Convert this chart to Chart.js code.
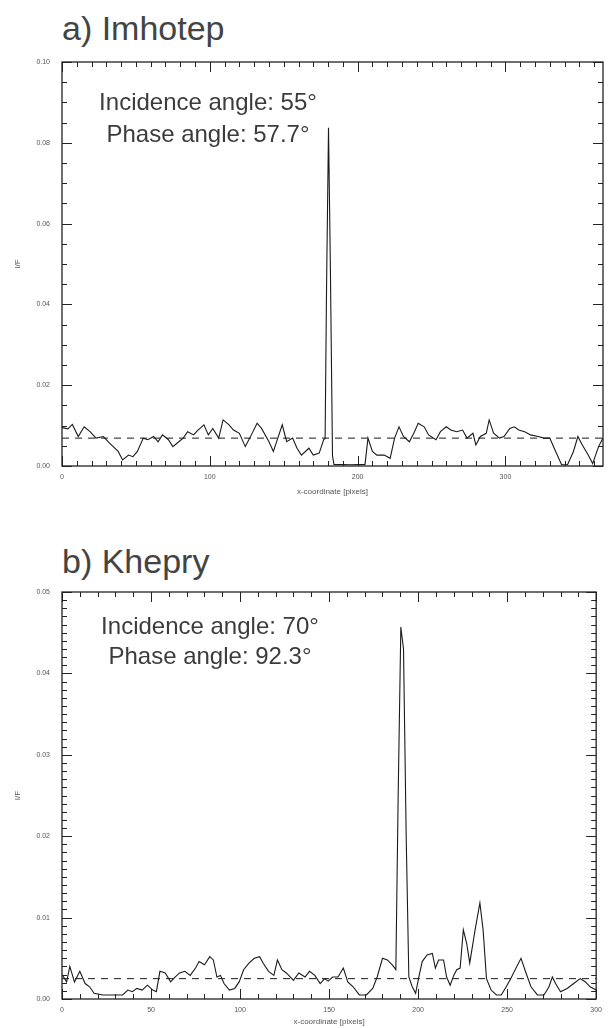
<!DOCTYPE html>
<html lang="en">
<head>
    <meta charset="UTF-8">
    <title>I/F profiles - Imhotep and Khepry</title>
    <style>
        body {
            margin: 0;
            background: #fff;
            font-family: "Liberation Sans", Arial, sans-serif;
            color: #222;
        }
        .page {
            position: relative;
            width: 609px;
            height: 1028px;
            overflow: hidden;
        }
        canvas {
            position: absolute;
            left: 0;
        }
        .panel-title {
            position: absolute;
            left: 62px;
            font-size: 34px;
            line-height: 1;
            color: #444;
            white-space: nowrap;
        }
        .note {
            position: absolute;
            width: 416px;
            left: 0;
            text-align: center;
            font-size: 24px;
            line-height: 1;
            color: #3c3c3c;
            white-space: nowrap;
        }
    </style>
    <script src="https://cdn.jsdelivr.net/npm/chart.js"></script>
</head>
<body>
<div class="page">
    <div class="panel-title" style="top: 11px;">a) Imhotep</div>
    <canvas id="imhotepChart" width="609" height="514" style="top: 0;"></canvas>
    <div class="note" style="top: 90px;">Incidence angle: 55°</div>
    <div class="note" style="top: 122px;">Phase angle: 57.7°</div>

    <div class="panel-title" style="top: 544px;">b) Khepry</div>
    <canvas id="khepryChart" width="609" height="514" style="top: 514px;"></canvas>
    <div class="note" style="top: 614px; width: 420px;">Incidence angle: 70°</div>
    <div class="note" style="top: 644px; width: 420px;">Phase angle: 92.3°</div>
</div>

<script>
    // a) Imhotep profile
    const imhotepX = [0, 4, 7, 11, 15, 19, 23, 28, 32, 38, 41, 45, 48, 51, 55, 58, 62, 65, 68, 72,
        75, 79, 82, 85, 89, 92, 96, 99, 102, 106, 109, 113, 116, 120, 124, 127, 132, 135, 140, 143,
        146, 149, 152, 156, 159, 162, 167, 170, 174, 177, 178, 179, 180.3, 181.6, 183, 184, 195, 205,
        207, 210, 213, 218, 222, 225, 228, 231, 235, 238, 241, 245, 248, 253, 256, 260, 263, 267, 271,
        274, 278, 280, 283, 287, 289, 292, 296, 299, 303, 306, 309, 313, 317, 322, 326, 330, 333, 338,
        342, 346, 349, 352, 356, 359, 363, 366];
    const imhotepIF = [0.0095, 0.0092, 0.0103, 0.0073, 0.0097, 0.0085, 0.0069, 0.0073, 0.0057, 0.0036,
        0.0015, 0.0027, 0.0023, 0.0036, 0.0069, 0.0065, 0.0073, 0.0060, 0.0077, 0.0065,
        0.0048, 0.0060, 0.0069, 0.0085, 0.0077, 0.0089, 0.0102, 0.0077, 0.0093, 0.0069,
        0.0114, 0.0102, 0.0089, 0.0081, 0.0048, 0.0069, 0.0106, 0.0093, 0.0060, 0.0036,
        0.0069, 0.0102, 0.0060, 0.0069, 0.0044, 0.0027, 0.0044, 0.0027, 0.0032, 0.0065,
        0.0068, 0.045, 0.0837, 0.048, 0.0025, 0.0004, 0.0003, 0.0004,
        0.0069, 0.0036, 0.0027, 0.0027, 0.0019, 0.0069, 0.0097, 0.0073, 0.0060, 0.0081,
        0.0106, 0.0097, 0.0077, 0.0065, 0.0085, 0.0097, 0.0089, 0.0085, 0.0089, 0.0069,
        0.0081, 0.0052, 0.0073, 0.0081, 0.0114, 0.0081, 0.0069, 0.0073, 0.0093, 0.0097,
        0.0089, 0.0085, 0.0077, 0.0073, 0.0069, 0.0069, 0.0044, 0.0003, 0.0003, 0.0036,
        0.0073, 0.0052, 0.0027, 0.0006, 0.0048, 0.0069];
    const imhotepMean = [0.0069, 0.0069];

    // b) Khepry profile
    const khepryX = [0, 2.6, 4.4, 7, 10, 13, 15.5, 18, 23, 28, 34, 37, 39.5, 42, 45, 48, 51, 53, 55, 58,
        61, 63.5, 66, 69, 72, 75, 77, 80, 83, 85, 87, 89, 91, 94, 97, 99.5, 102, 105, 108, 111,
        113, 116, 119, 121, 123.5, 126, 130, 133, 136.5, 139, 142, 145, 147.5, 149.5, 152, 155, 158, 160.5,
        163.5, 167, 171, 174.5, 177, 180, 182.7, 185.5, 187.5, 188.8, 190.3, 191.8, 193.3, 194.8, 196.7,
        198.6, 200.4, 202.3, 205, 208, 209.7, 211.5, 214.3, 216, 218, 220, 221.7, 223.6, 225.4, 227.3,
        229, 232, 234.7, 236.5, 238.4, 241, 244, 246.7, 249.5, 252, 255, 257.8, 260.6, 263.4, 267,
        270.7, 273.5, 275.4, 277.2, 280, 283.7, 287.4, 291, 294, 296.6, 300];
    const khepryIF = [0.0030, 0.0021, 0.0040, 0.0021, 0.0034, 0.0019, 0.0015, 0.0007, 0.0005, 0.0005,
        0.0005, 0.0011, 0.0009, 0.0013, 0.0011, 0.0017, 0.0011, 0.0009, 0.0034, 0.0032,
        0.0021, 0.0027, 0.0032, 0.0034, 0.0029, 0.0038, 0.0046, 0.0042, 0.0052, 0.0048,
        0.0027, 0.0029, 0.0019, 0.0011, 0.0013, 0.0021, 0.0036, 0.0044, 0.0050, 0.0052,
        0.0044, 0.0034, 0.0029, 0.0048, 0.0036, 0.0032, 0.0023, 0.0032, 0.0027, 0.0034,
        0.0029, 0.0019, 0.0025, 0.0022, 0.0027, 0.0027, 0.0038, 0.0021,
        0.0015, 0.0005, 0.0005, 0.0013, 0.0027, 0.0050, 0.0048, 0.0042, 0.0036, 0.025,
        0.0457, 0.043, 0.020, 0.0027, 0.0015,
        0.0007, 0.0027, 0.0046, 0.0054, 0.0056, 0.0038, 0.0048, 0.0048, 0.0027, 0.0017,
        0.0029, 0.0036, 0.0038, 0.0085, 0.0068,
        0.0044, 0.0085, 0.0118, 0.0085, 0.0025, 0.0011, 0.0005, 0.0005, 0.0015, 0.0025,
        0.0038, 0.0050, 0.0032, 0.0015, 0.0005,
        0.0005, 0.0015, 0.0027, 0.0019, 0.0009, 0.0013, 0.0019, 0.0025, 0.0021, 0.0015, 0.0011];
    const khepryMean = [0.0025, 0.0025];

    // inward tick marks on all four sides of the frame
    const frameTicks = {
        id: 'frameTicks',
        afterDatasetsDraw(chart, args, opts) {
            const { ctx, chartArea: a, scales: { x, y } } = chart;
            ctx.save();
            ctx.strokeStyle = '#222';
            ctx.lineWidth = 1;
            const line = (x1, y1, x2, y2) => {
                ctx.beginPath();
                ctx.moveTo(x1, y1);
                ctx.lineTo(x2, y2);
                ctx.stroke();
            };
            const isMajor = (v, step) => Math.abs(v / step - Math.round(v / step)) < 1e-6;

            const nx = Math.floor((x.max - x.min) / opts.xMinor + 1e-6);
            for (let i = 0; i <= nx; i++) {
                const v = x.min + i * opts.xMinor;
                const px = Math.round(x.getPixelForValue(v)) + 0.5;
                const len = isMajor(v, opts.xMajor) ? 10 : 5;
                line(px, a.bottom, px, a.bottom - len);
                line(px, a.top, px, a.top + len);
            }
            const ny = Math.floor((y.max - y.min) / opts.yMinor + 1e-6);
            for (let i = 0; i <= ny; i++) {
                const v = y.min + i * opts.yMinor;
                const py = Math.round(y.getPixelForValue(v)) + 0.5;
                const len = isMajor(v, opts.yMajor) ? 10 : 5;
                line(a.left, py, a.left + len, py);
                line(a.right, py, a.right - len, py);
            }
            ctx.lineWidth = 1.3;
            ctx.strokeRect(a.left, a.top, a.right - a.left, a.bottom - a.top);
            ctx.restore();
        }
    };

    const tickFont = { family: '"Liberation Sans", Arial, sans-serif', size: 7 };

    function makeChart(id, xs, ys, mean, xMax, xStep, yMax, yStep, pad, xHeight, ticks) {
        return new Chart(document.getElementById(id), {
            type: 'line',
            data: {
                datasets: [{
                    data: xs.map((v, i) => ({ x: v, y: ys[i] })),
                    borderColor: '#1a1a1a',
                    borderWidth: 1.1,
                    pointRadius: 0,
                    tension: 0
                }, {
                    data: [{ x: 0, y: mean[0] }, { x: xMax, y: mean[1] }],
                    borderColor: '#1a1a1a',
                    borderWidth: 1,
                    borderDash: [7, 6],
                    pointRadius: 0
                }]
            },
            options: {
                responsive: false,
                animation: false,
                devicePixelRatio: 1,
                layout: { padding: pad },
                plugins: {
                    legend: { display: false },
                    tooltip: { enabled: false },
                    frameTicks: ticks
                },
                scales: {
                    x: {
                        type: 'linear',
                        min: 0,
                        max: xMax,
                        grid: { display: false, drawTicks: false },
                        border: { display: false },
                        ticks: {
                            stepSize: xStep,
                            includeBounds: false,
                            maxRotation: 0,
                            padding: 7,
                            color: '#555',
                            font: tickFont
                        },
                        title: {
                            display: true,
                            text: 'x-coordinate [pixels]',
                            color: '#555',
                            font: { family: tickFont.family, size: 8 },
                            padding: 0
                        },
                        afterFit(scale) { scale.height = xHeight; }
                    },
                    y: {
                        min: 0,
                        max: yMax,
                        grid: { display: false, drawTicks: false },
                        border: { display: false },
                        ticks: {
                            stepSize: yStep,
                            padding: 12,
                            color: '#555',
                            font: tickFont,
                            callback: v => v.toFixed(2)
                        },
                        title: {
                            display: true,
                            text: 'I/F',
                            color: '#555',
                            font: { family: tickFont.family, size: 8 },
                            padding: 0
                        },
                        afterFit(scale) { scale.width = 49; }
                    }
                }
            },
            plugins: [frameTicks]
        });
    }

    makeChart('imhotepChart', imhotepX, imhotepIF, imhotepMean, 366, 100, 0.10, 0.02,
        { top: 62, right: 6, bottom: 17, left: 13 }, 31,
        { xMinor: 10, xMajor: 100, yMinor: 0.005, yMajor: 0.02 });

    makeChart('khepryChart', khepryX, khepryIF, khepryMean, 300, 50, 0.05, 0.01,
        { top: 78, right: 6, bottom: 1, left: 13 }, 28,
        { xMinor: 10, xMajor: 50, yMinor: 0.001, yMajor: 0.01 });
</script>
</body>
</html>
